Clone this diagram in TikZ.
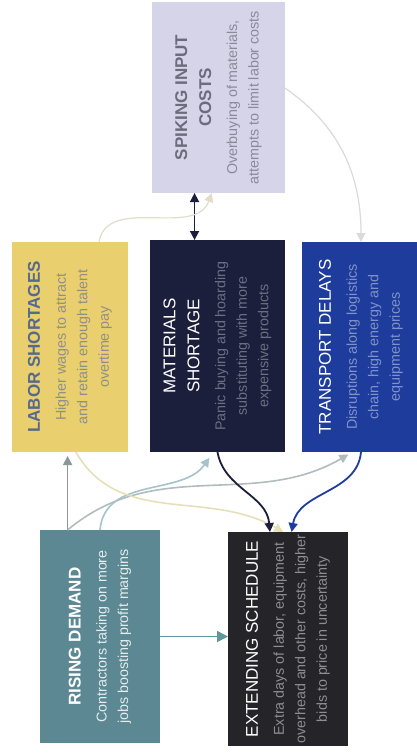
\documentclass[tikz,border=0pt]{standalone}
\usepackage{fontspec}
\setmainfont{Liberation Sans}
\usetikzlibrary{arrows.meta,calc}

\definecolor{spikefill}{HTML}{D6D4E8}
\definecolor{spiketitle}{HTML}{6C6C7E}
\definecolor{spikedesc}{HTML}{8A8A9C}
\definecolor{laborfill}{HTML}{EACF6E}
\definecolor{labortitle}{HTML}{56698E}
\definecolor{labordesc}{HTML}{8E8F8C}
\definecolor{matfill}{HTML}{1C1F3C}
\definecolor{matdesc}{HTML}{6C6E85}
\definecolor{transfill}{HTML}{1E3C9C}
\definecolor{transdesc}{HTML}{8092C8}
\definecolor{risefill}{HTML}{5B8892}
\definecolor{risedesc}{HTML}{E4ECEE}
\definecolor{extfill}{HTML}{242429}
\definecolor{extdesc}{HTML}{8E8E90}
\definecolor{teallink}{HTML}{5E979E}
\definecolor{graylink}{HTML}{8C9598}
\definecolor{palelink}{HTML}{B0BCBE}
\definecolor{bluelink}{HTML}{A6C2CB}
\definecolor{yellowlink}{HTML}{E6E0B8}
\definecolor{faintlink}{HTML}{DADADA}

% width, title colour, title, text colour, text
\newcommand{\cardtext}[5]{\rotatebox{90}{\parbox{#1}{\centering
  {\fontsize{17}{24}\selectfont\color{#2}#3\par}\vspace{4.5pt}
  {\fontsize{14.3}{21.5}\selectfont\color{#4}#5\par}}}}

\begin{document}
\begin{tikzpicture}[x=1pt, y=1pt,
    card/.style={rectangle, inner sep=0pt, outer sep=0pt},
    link/.style={line width=1.6pt, -{Triangle[length=9pt, width=9pt]}}]
			\useasboundingbox (0,0) rectangle (417,-755);
			\clip (0,0) rectangle (417,-755);

			\node[card, fill=spikefill, minimum width=133pt, minimum height=191pt] (spike) at (218.5,-97.5)
				{\cardtext{185pt}{spiketitle}{\bfseries SPIKING INPUT\\COSTS}{spikedesc}{Overbuying of materials,\\attempts to limit labor costs}};
			\node[card, fill=laborfill, minimum width=116pt, minimum height=210pt] (labor) at (70,-347)
				{\cardtext{200pt}{labortitle}{\bfseries LABOR SHORTAGES}{labordesc}{Higher wages to attract\\and retain enough talent\\overtime pay}};
			\node[card, fill=matfill, minimum width=135pt, minimum height=212pt] (mat) at (217.5,-346)
				{\cardtext{200pt}{white}{MATERIALS\\SHORTAGE}{matdesc}{Panic buying and hoarding\\substituting with more\\expensive products}};
			\node[card, fill=transfill, minimum width=118pt, minimum height=210pt] (trans) at (361,-347)
				{\cardtext{200pt}{white}{TRANSPORT DELAYS}{transdesc}{Disruptions along logistics\\chain, high energy and\\equipment prices}};
			\node[card, fill=risefill, minimum width=120pt, minimum height=213pt] (rise) at (100,-636.5)
				{\cardtext{205pt}{white}{\bfseries RISING DEMAND}{risedesc}{Contractors taking on more\\jobs boosting profit margins}};
			\node[card, fill=extfill, minimum width=120pt, minimum height=214pt] (ext) at (288,-639)
				{\cardtext{210pt}{white}{EXTENDING SCHEDULE}{extdesc}{Extra days of labor, equipment\\overhead and other costs, higher\\bids to price in uncertainty}};

			\coordinate (riseA) at ($(rise.north west)!0.23!(rise.north east)$);
			\coordinate (riseB) at ($(rise.north west)!0.5!(rise.north east)$);
			\coordinate (matA) at ($(mat.north west)!0.33!(mat.north east)$);
			\coordinate (laborA) at ($(labor.north west)!0.75!(labor.north east)$);

			% links out of rising demand
			\draw[link, draw=teallink, -{Triangle[length=11pt, width=11pt]}, line width=1.8pt] (rise.east) -- (rise.east -| ext.west);
			\draw[link, draw=graylink, shorten >=4pt] (riseA) -- (riseA |- labor.south);
			\draw[link, draw=palelink, shorten >=5pt] (riseA) to[out=40, in=210] ($(trans.south west)!0.43!(trans.south east)$);
			\draw[link, draw=bluelink, shorten >=7pt] (riseB) to[out=85, in=235] ($(mat.south west)!0.47!(mat.south east)$);

			% links into extending schedule
			\draw[link, draw=yellowlink] ($(labor.south west)!0.55!(labor.south east)$) to[out=-60, in=150] ($(ext.north west)!0.46!(ext.north east)$);
			\draw[link, draw=matfill, line width=1.8pt] ($(mat.south west)!0.5!(mat.south east)$) to[out=-80, in=95] ($(ext.north west)!0.35!(ext.north east)$);
			\draw[link, draw=transfill, line width=1.8pt] ($(trans.south west)!0.5!(trans.south east)$) to[out=-95, in=80] ($(ext.north west)!0.53!(ext.north east)$);

			% links round spiking input costs
			\draw[link, draw=matfill, {Triangle[length=9pt, width=9pt]}-{Triangle[length=9pt, width=9pt]}] (matA |- spike.south) -- (matA);
			\draw[link, draw=faintlink, line width=1.2pt] (spike.east |- 0,-88) to[out=-35, in=90] ($(trans.north west)!0.5!(trans.north east)$);
			\draw[link, draw=faintlink!50!yellowlink, line width=1.2pt] (laborA) to[out=80, in=-110] ($(spike.south west)!0.45!(spike.south east)$);

		\end{tikzpicture}
\end{document}
